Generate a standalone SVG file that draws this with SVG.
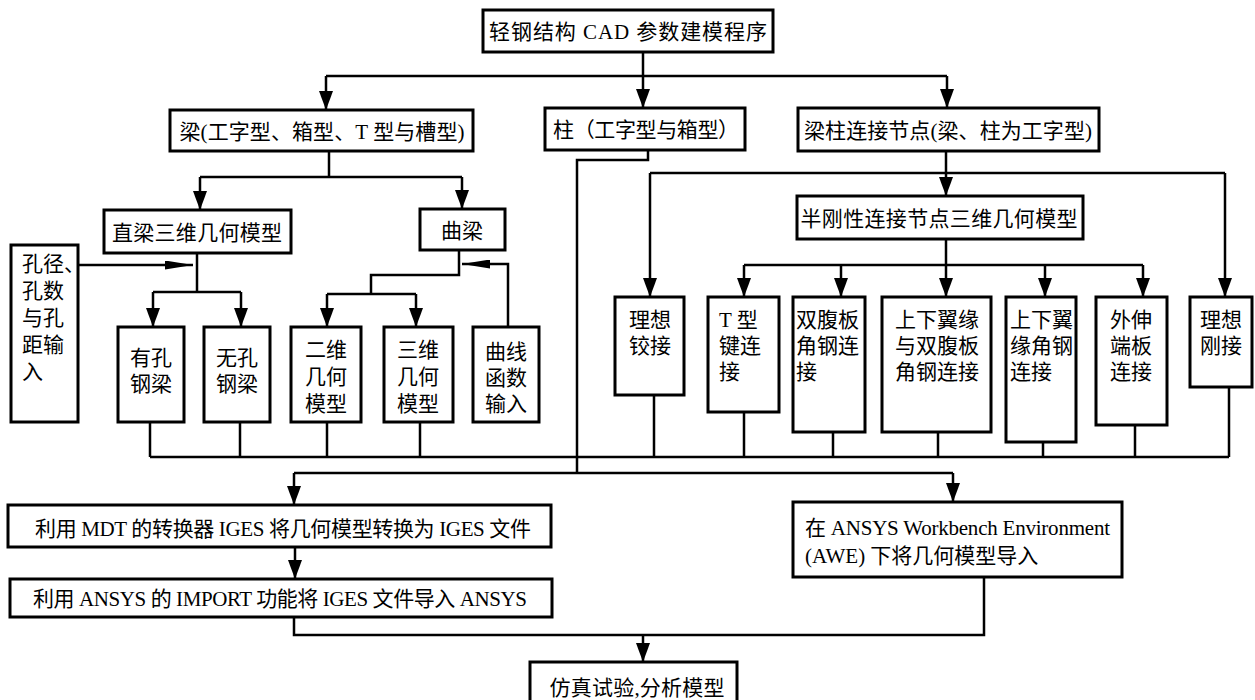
<svg xmlns="http://www.w3.org/2000/svg" width="1255" height="700" viewBox="0 0 1255 700">
<style>
.b{fill:#fff;stroke:#000;stroke-width:3}
.c{fill:none;stroke:#000;stroke-width:2.5}
.t{font-family:"Liberation Serif","Noto Sans CJK SC",serif;font-size:21px;fill:#000}
.m{text-anchor:middle}
</style>
<defs>
<marker id="a" viewBox="0 0 19 14" refX="19" refY="7" markerWidth="19" markerHeight="14" markerUnits="userSpaceOnUse" orient="auto"><path d="M0,0 L19,7 L0,14 z" fill="#000"/></marker>
<marker id="h" viewBox="0 0 28 9" refX="28" refY="4.5" markerWidth="28" markerHeight="9" markerUnits="userSpaceOnUse" orient="auto"><path d="M0,0 L28,4.5 L0,9 z" fill="#000"/></marker>
</defs>
<rect width="1255" height="700" fill="#fff"/>
<g id="connectors">
<path class="c" d="M643,52 V108" marker-end="url(#a)"/>
<path class="c" d="M326,76 H947"/>
<path class="c" d="M326,76 V110" marker-end="url(#a)"/>
<path class="c" d="M947,76 V108" marker-end="url(#a)"/>
<path class="c" d="M329,151 V177"/>
<path class="c" d="M200,177 H462"/>
<path class="c" d="M200,177 V210" marker-end="url(#a)"/>
<path class="c" d="M462,177 V209" marker-end="url(#a)"/>
<path class="c" d="M197,253 V292"/>
<path class="c" d="M153,292 H241"/>
<path class="c" d="M153,292 V327" marker-end="url(#a)"/>
<path class="c" d="M241,292 V327" marker-end="url(#a)"/>
<path class="c" d="M78,265 H193" marker-end="url(#h)"/>
<path class="c" d="M459,250 V275 H371 V294"/>
<path class="c" d="M327,294 H416"/>
<path class="c" d="M327,294 V327" marker-end="url(#a)"/>
<path class="c" d="M416,294 V327" marker-end="url(#a)"/>
<path class="c" d="M508,327 V264 H462" marker-end="url(#h)"/>
<path class="c" d="M648,150 V160 H577 V473"/>
<path class="c" d="M150,422 V457 M240,422 V457 M327,422 V457 M420,422 V457"/>
<path class="c" d="M150,457 H1229"/>
<path class="c" d="M654,395 V457 M744,412 V457 M833,432 V457 M938,432 V457 M1043,442 V457 M1135,425 V457 M1229,387 V457"/>
<path class="c" d="M946,151 V196" marker-end="url(#a)"/>
<path class="c" d="M650,173 H1225"/>
<path class="c" d="M650,173 V297" marker-end="url(#a)"/>
<path class="c" d="M1225,173 V297" marker-end="url(#a)"/>
<path class="c" d="M946,239 V265"/>
<path class="c" d="M744,265 H1143"/>
<path class="c" d="M744,265 V297" marker-end="url(#a)"/>
<path class="c" d="M841,265 V297" marker-end="url(#a)"/>
<path class="c" d="M946,265 V297" marker-end="url(#a)"/>
<path class="c" d="M1045,265 V297" marker-end="url(#a)"/>
<path class="c" d="M1143,265 V297" marker-end="url(#a)"/>
<path class="c" d="M294,473 H953"/>
<path class="c" d="M294,473 V505" marker-end="url(#a)"/>
<path class="c" d="M953,473 V502" marker-end="url(#a)"/>
<path class="c" d="M295,547 V579" marker-end="url(#a)"/>
<path class="c" d="M294,617 V635 H984 V577"/>
<path class="c" d="M643,635 V662" marker-end="url(#a)"/>
</g>
<g id="n-root"><rect class="b" x="483" y="10" width="290" height="42"/><text class="t m" x="628" y="39" textLength="278">轻钢结构 CAD 参数建模程序</text></g>
<g id="n-beam"><rect class="b" x="170" y="110" width="303" height="41"/><text class="t m" x="322" y="139" textLength="285">梁(工字型、箱型、T 型与槽型)</text></g>
<g id="n-col"><rect class="b" x="545" y="108" width="200" height="42"/><text class="t m" x="646" y="137" textLength="186">柱（工字型与箱型）</text></g>
<g id="n-joint"><rect class="b" x="798" y="108" width="301" height="43"/><text class="t m" x="948" y="138" textLength="288">梁柱连接节点(梁、柱为工字型)</text></g>
<g id="n-straight"><rect class="b" x="104" y="210" width="187" height="43"/><text class="t m" x="197" y="240" textLength="170">直梁三维几何模型</text></g>
<g id="n-curved"><rect class="b" x="420" y="209" width="85" height="41"/><text class="t m" x="462" y="238">曲梁</text></g>
<g id="n-semi"><rect class="b" x="797" y="196" width="286" height="43"/><text class="t m" x="939" y="226" textLength="277">半刚性连接节点三维几何模型</text></g>
<g id="n-hole"><rect class="b" x="11" y="245" width="67" height="177"/><text class="t" x="22" y="271">孔径、</text><text class="t" x="22" y="298">孔数</text><text class="t" x="22" y="325">与孔</text><text class="t" x="22" y="352">距输</text><text class="t" x="22" y="379">入</text></g>
<g id="n-holed"><rect class="b" x="118" y="327" width="66" height="95"/><text class="t m" x="151" y="365">有孔</text><text class="t m" x="151" y="391">钢梁</text></g>
<g id="n-noholed"><rect class="b" x="204" y="327" width="66" height="95"/><text class="t m" x="237" y="365">无孔</text><text class="t m" x="237" y="391">钢梁</text></g>
<g id="n-2d"><rect class="b" x="291" y="327" width="70" height="95"/><text class="t m" x="326" y="357">二维</text><text class="t m" x="326" y="384">几何</text><text class="t m" x="326" y="411">模型</text></g>
<g id="n-3d"><rect class="b" x="384" y="327" width="69" height="95"/><text class="t m" x="418" y="357">三维</text><text class="t m" x="418" y="384">几何</text><text class="t m" x="418" y="411">模型</text></g>
<g id="n-curve"><rect class="b" x="473" y="327" width="66" height="95"/><text class="t m" x="506" y="359">曲线</text><text class="t m" x="506" y="385">函数</text><text class="t m" x="506" y="411">输入</text></g>
<g id="n-pin"><rect class="b" x="615" y="297" width="69" height="98"/><text class="t m" x="650" y="327">理想</text><text class="t m" x="650" y="353">铰接</text></g>
<g id="n-tee"><rect class="b" x="708" y="297" width="71" height="115"/><text class="t" x="719" y="327">T 型</text><text class="t" x="719" y="353">键连</text><text class="t" x="719" y="379">接</text></g>
<g id="n-web"><rect class="b" x="793" y="297" width="72" height="135"/><text class="t" x="796" y="327">双腹板</text><text class="t" x="796" y="353">角钢连</text><text class="t" x="796" y="379">接</text></g>
<g id="n-flangeweb"><rect class="b" x="882" y="297" width="109" height="135"/><text class="t m" x="937" y="327">上下翼缘</text><text class="t m" x="937" y="353">与双腹板</text><text class="t m" x="937" y="379">角钢连接</text></g>
<g id="n-flange"><rect class="b" x="1006" y="297" width="70" height="145"/><text class="t" x="1010" y="327">上下翼</text><text class="t" x="1010" y="353">缘角钢</text><text class="t" x="1010" y="379">连接</text></g>
<g id="n-endplate"><rect class="b" x="1096" y="297" width="71" height="128"/><text class="t m" x="1131" y="327">外伸</text><text class="t m" x="1131" y="353">端板</text><text class="t m" x="1131" y="379">连接</text></g>
<g id="n-rigid"><rect class="b" x="1190" y="297" width="62" height="90"/><text class="t m" x="1221" y="327">理想</text><text class="t m" x="1221" y="353">刚接</text></g>
<g id="n-mdt"><rect class="b" x="8" y="505" width="543" height="42"/><text class="t m" x="283" y="536" textLength="496">利用 MDT 的转换器 IGES 将几何模型转换为 IGES 文件</text></g>
<g id="n-import"><rect class="b" x="10" y="579" width="542" height="38"/><text class="t m" x="280" y="606" textLength="494">利用 ANSYS 的 IMPORT 功能将 IGES 文件导入 ANSYS</text></g>
<g id="n-awe"><rect class="b" x="793" y="502" width="329" height="75"/><text class="t" x="805" y="535" textLength="305">在 ANSYS Workbench Environment</text><text class="t" x="805" y="563">(AWE) 下将几何模型导入</text></g>
<g id="n-sim"><rect class="b" x="530" y="662" width="207" height="50"/><text class="t m" x="637" y="695" textLength="175">仿真试验,分析模型</text></g>
</svg>
